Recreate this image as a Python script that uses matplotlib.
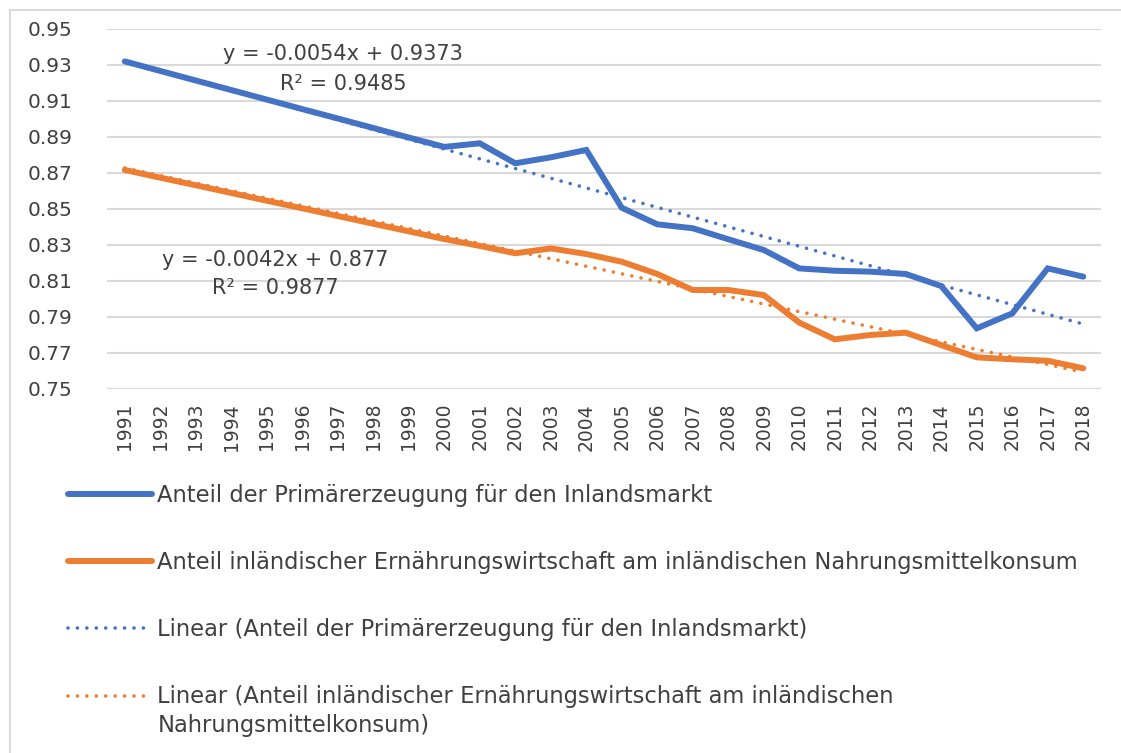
import matplotlib
matplotlib.use("Agg")
import matplotlib.pyplot as plt
from matplotlib.lines import Line2D
import numpy as np

years = list(range(1991, 2019))
primaer = [0.9320, 0.9267, 0.9214, 0.9161, 0.9108, 0.9055, 0.9003, 0.8950, 0.8897, 0.8845,
           0.8865, 0.8754, 0.8787, 0.8828, 0.8507, 0.8415, 0.8393, 0.8332, 0.8272, 0.8170,
           0.8157, 0.8152, 0.8139, 0.8072, 0.7837, 0.7920, 0.8170, 0.8124]
ernaehrung = [0.8717, 0.8674, 0.8632, 0.8589, 0.8546, 0.8504, 0.8461, 0.8418, 0.8376, 0.8333,
              0.8295, 0.8254, 0.8281, 0.8250, 0.8207, 0.8139, 0.8050, 0.8050, 0.8022, 0.7869,
              0.7776, 0.7800, 0.7813, 0.7744, 0.7676, 0.7665, 0.7657, 0.7615]
trend_primaer = (-0.0054, 0.9373, 0.9485)
trend_ernaehrung = (-0.0042, 0.877, 0.9877)
labels = ["Anteil der Primärerzeugung für den Inlandsmarkt",
          "Anteil inländischer Ernährungswirtschaft am inländischen Nahrungsmittelkonsum",
          "Linear (Anteil der Primärerzeugung für den Inlandsmarkt)",
          "Linear (Anteil inländischer Ernährungswirtschaft am inländischen"]
label4_cont = "Nahrungsmittelkonsum)"
yticks = [0.75, 0.77, 0.79, 0.81, 0.83, 0.85, 0.87, 0.89, 0.91, 0.93, 0.95]

BLUE = "#4472C4"
ORANGE = "#ED7D31"
TXT = "#404040"

W, H = 1121, 753
fig = plt.figure(figsize=(W / 100, H / 100), dpi=100)
ax = fig.add_axes([107 / W, 1 - 389 / H, (1101 - 107) / W, (389 - 29) / H])

idx = np.arange(len(years))
xn = idx + 1
dot = (0, (0.01, 2.6))
t1, = ax.plot(idx, trend_primaer[0] * xn + trend_primaer[1], color=BLUE, lw=2.6,
              linestyle=dot, dash_capstyle="round", zorder=2)
t2, = ax.plot(idx, trend_ernaehrung[0] * xn + trend_ernaehrung[1], color=ORANGE, lw=2.6,
              linestyle=dot, dash_capstyle="round", zorder=2)
l1, = ax.plot(idx, primaer, color=BLUE, lw=4.3, solid_joinstyle="miter", solid_capstyle="round", zorder=3)
l2, = ax.plot(idx, ernaehrung, color=ORANGE, lw=4.3, solid_joinstyle="miter", solid_capstyle="round", zorder=3)

ax.set_xlim(-0.5, len(years) - 0.5)
ax.set_ylim(0.75, 0.95)
ax.set_yticks(yticks)
ax.set_yticklabels([f"{v:.2f}" for v in yticks])
ax.set_xticks(idx)
ax.set_xticklabels([str(y) for y in years], rotation=90)
ax.tick_params(axis="y", length=0, pad=25, labelsize=14.5, labelcolor=TXT)
ax.tick_params(axis="x", length=0, pad=10, labelsize=13.5, labelcolor=TXT)
ax.grid(axis="y", color="#D9D9D9", lw=1.5)
ax.set_axisbelow(True)
for s in ax.spines.values():
    s.set_visible(False)

ax.text(6.15, 0.936, f"y = {trend_primaer[0]}x + {trend_primaer[1]}", ha="center", va="center",
        fontsize=15, color=TXT)
ax.text(6.15, 0.9195, f"R² = {trend_primaer[2]}", ha="center", va="center", fontsize=15, color=TXT)
ax.text(4.25, 0.8215, f"y = {trend_ernaehrung[0]}x + {trend_ernaehrung[1]}", ha="center", va="center",
        fontsize=15, color=TXT)
ax.text(4.25, 0.806, f"R² = {trend_ernaehrung[2]}", ha="center", va="center", fontsize=15, color=TXT)

leg = fig.legend([l1, l2, t1, t2], labels, loc="upper left", bbox_to_anchor=(68 / W, 1 - 484 / H),
                 frameon=False, fontsize=16.3, handlelength=3.7, handletextpad=0.25,
                 labelspacing=1.95, borderpad=0, borderaxespad=0, labelcolor=TXT)

fig.canvas.draw()
bb = leg.get_texts()[3].get_window_extent()
fig.text(bb.x0 / W, (bb.y0 + bb.y1) / 2 / H - 29 / H, label4_cont, ha="left", va="center",
         fontsize=16.3, color=TXT)

fig.add_artist(Line2D([10 / W, 1.0], [1 - 10 / H, 1 - 10 / H], transform=fig.transFigure,
                      color="#D9D9D9", lw=1.5))
fig.add_artist(Line2D([10 / W, 10 / W], [0.0, 1 - 10 / H], transform=fig.transFigure,
                      color="#D9D9D9", lw=1.5))

fig.savefig("out.png", dpi=100, facecolor="white")
